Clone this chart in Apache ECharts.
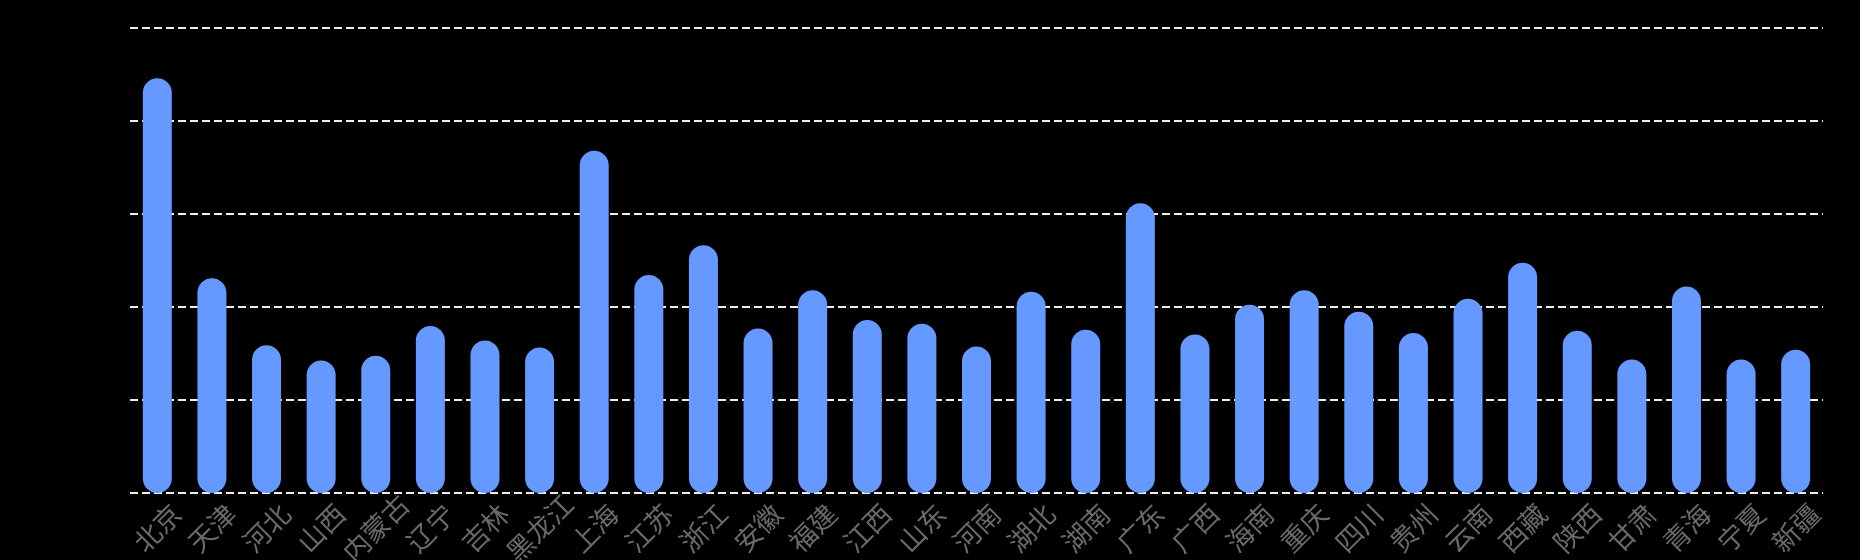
<!DOCTYPE html>
<html>
<head>
<meta charset="utf-8">
<script src="https://cdn.jsdelivr.net/npm/echarts@6/dist/echarts.min.js"></script>
<style>
  html, body { margin: 0; padding: 0; background: #000; }
  #chart { width: 1860px; height: 560px; }
</style>
</head>
<body>
<div id="chart"></div>
<script>
const provinces = ['北京', '天津', '河北', '山西', '内蒙古', '辽宁', '吉林', '黑龙江', '上海', '江苏', '浙江', '安徽', '福建', '江西', '山东', '河南', '湖北', '湖南', '广东', '广西', '海南', '重庆', '四川', '贵州', '云南', '西藏', '陕西', '甘肃', '青海', '宁夏', '新疆'];
const values = [89.2, 46.2, 31.8, 28.5, 29.5, 35.9, 32.8, 31.3, 73.6, 46.9, 53.3, 35.4, 43.6, 37.2, 36.4, 31.5, 43.3, 35.1, 62.3, 34.1, 40.5, 43.6, 39.0, 34.4, 41.8, 49.5, 34.9, 28.7, 44.4, 28.7, 30.8];

const chart = echarts.init(document.getElementById('chart'));

const option = {
    backgroundColor: '#000',
    grid: {
        top: 28,
        left: 130,
        right: 37,
        bottom: 67,
        outerBoundsMode: 'none'
    },
    xAxis: {
        type: 'category',
        data: provinces,
        axisLine: { show: false },
        axisTick: { show: false },
        axisLabel: {
            interval: 0,
            rotate: 45,
            align: 'center',
            verticalAlign: 'middle',
            color: '#6a6a6a',
            fontSize: 27,
            fontFamily: 'Noto Sans CJK SC',
            margin: 35
        }
    },
    yAxis: {
        type: 'value',
        min: 0,
        max: 100,
        interval: 20,
        axisLine: { show: false },
        axisTick: { show: false },
        axisLabel: { show: false },
        splitLine: {
            lineStyle: {
                color: '#eee',
                type: [8, 4],
                width: 2
            }
        }
    },
    series: [{
        type: 'bar',
        data: values,
        barWidth: 29,
        itemStyle: {
            color: '#6699ff',
            borderRadius: 15
        }
    }]
};

chart.setOption(option);
</script>
</body>
</html>
